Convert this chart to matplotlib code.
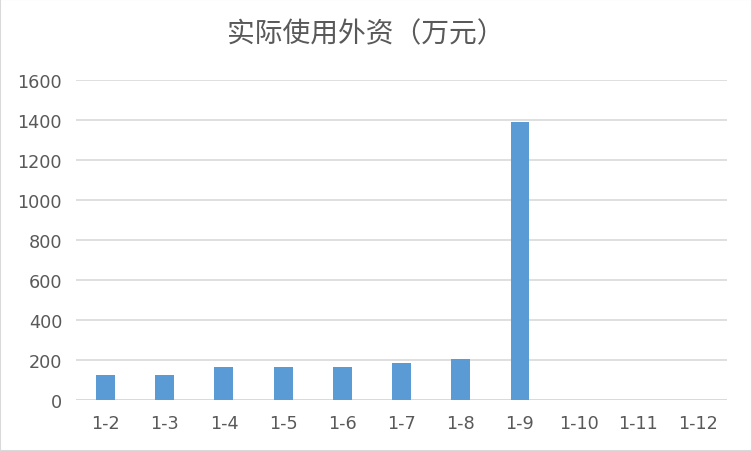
import matplotlib
matplotlib.use("Agg")
import matplotlib.pyplot as plt
from matplotlib.patches import Rectangle

# ── Data ────────────────────────────────────────────────────
TITLE = "实际使用外资（万元）"
categories = ["1-2", "1-3", "1-4", "1-5", "1-6", "1-7", "1-8", "1-9", "1-10", "1-11", "1-12"]
values = [125, 125, 165, 165, 165, 185, 205, 1390, 0, 0, 0]
y_ticks = [0, 200, 400, 600, 800, 1000, 1200, 1400, 1600]

BAR = "#5B9BD5"
GRID = "#D9D9D9"
TEXT = "#595959"

plt.rcParams["font.family"] = "DejaVu Sans"

fig = plt.figure(figsize=(7.52, 4.52), dpi=100)
ax = fig.add_axes([0.101, 0.113, 0.866, 0.708])

x = range(len(categories))
ax.bar(x, values, width=0.32, color=BAR, zorder=3)

ax.set_xlim(-0.5, len(categories) - 0.5)
ax.set_ylim(0, 1600)
ax.set_yticks(y_ticks)
ax.set_xticks(list(x))
ax.set_xticklabels(categories)
ax.yaxis.grid(True, color=GRID, linewidth=1.2, zorder=0)
for s in ax.spines.values():
    s.set_visible(False)
ax.axhline(0, color=GRID, linewidth=1.2, zorder=2)
ax.tick_params(axis="both", length=0, labelsize=12.7, colors=TEXT)
ax.tick_params(axis="x", pad=10)
ax.tick_params(axis="y", pad=10)
for lab in ax.get_xticklabels() + ax.get_yticklabels():
    lab.set_family("DejaVu Sans")

fig.text(0.487, 0.925, TITLE, ha="center", va="center", fontsize=20, color=TEXT,
         family=["Noto Sans CJK SC", "DejaVu Sans"], fontweight="light")

fig.patches.append(Rectangle((0, 0), 1, 1, transform=fig.transFigure, fill=False,
                             edgecolor="#D9D9D9", linewidth=1.5))

fig.savefig("out.png", dpi=100)
